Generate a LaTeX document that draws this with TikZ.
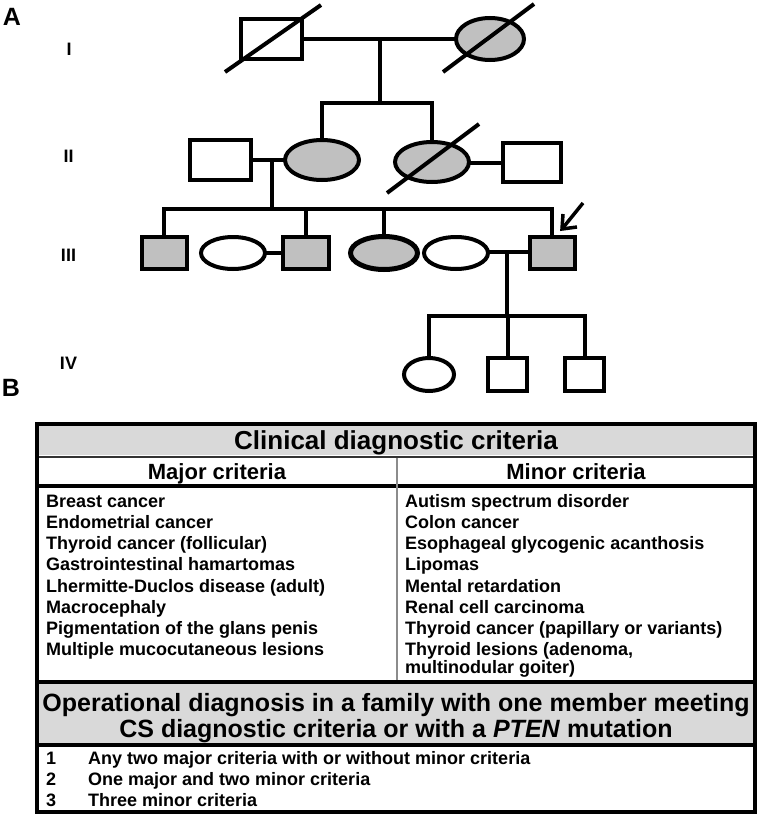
\documentclass[tikz,border=0pt]{standalone}
\usepackage{fontspec}
\setmainfont{Liberation Sans}
\usetikzlibrary{shapes.geometric,calc}
\definecolor{affgray}{HTML}{C0C0C0}
\definecolor{bandgray}{HTML}{D9D9D9}
\definecolor{divgray}{HTML}{8C8C8C}
\tikzset{
  rel/.style={line width=4pt, line join=miter, line cap=rect},
  pmale/.style={draw, line width=4pt, rectangle, inner sep=0pt, fill=white},
  pfem/.style={draw, line width=4pt, ellipse, inner sep=0pt, fill=white},
  aff/.style={fill=affgray},
  deceased/.style={line width=4pt, line cap=butt},
  genlab/.style={anchor=base, font=\fontsize{18}{18}\selectfont\bfseries},
  panel/.style={anchor=base, font=\fontsize{25}{25}\selectfont\bfseries},
  listl/.style={anchor=base west, inner sep=0pt, font=\fontsize{18}{18}\selectfont\bfseries},
  headtxt/.style={anchor=base, inner sep=0pt},
}
\begin{document}
\begin{tikzpicture}[x=1pt,y=-1pt]
\useasboundingbox (0,0) rectangle (762,819);
% panel labels
\node[panel] (labA) at (12,25) {A};
\node[panel] (labB) at (11,396) {B};
\node[genlab] (gI) at (69,55.5) {I};
\node[genlab] (gII) at (68.5,162) {II};
\node[genlab] (gIII) at (68.5,261) {III};
\node[genlab] (gIV) at (68.5,369.5) {IV};
% generation I
\node[pmale, minimum width=61pt, minimum height=40pt] (I1) at (271.5,39) {};
\node[pfem, aff, minimum width=68pt, minimum height=42pt] (I2) at (490,39) {};
% generation II
\node[pmale, minimum width=61pt, minimum height=40pt] (II1) at (220.5,160) {};
\node[pfem, aff, minimum width=74pt, minimum height=40pt] (II2) at (322,160) {};
\node[pfem, aff, minimum width=74pt, minimum height=40pt] (II3) at (432,162) {};
\node[pmale, minimum width=58pt, minimum height=39pt] (II4) at (532,162.5) {};
% generation III
\node[pmale, aff, minimum width=45pt, minimum height=32pt] (III1) at (164,253) {};
\node[pfem, minimum width=64pt, minimum height=32pt] (III2) at (233,253) {};
\node[pmale, aff, minimum width=46pt, minimum height=32pt] (III3) at (306,253) {};
\node[pfem, aff, line width=5pt, minimum width=67pt, minimum height=33pt] (III4) at (384,253) {};
\node[pfem, minimum width=64pt, minimum height=32pt] (III5) at (456,253) {};
\node[pmale, aff, minimum width=45pt, minimum height=32pt] (III6) at (552,253) {};
% generation IV
\node[pfem, minimum width=50pt, minimum height=33pt] (IV1) at (429,374.5) {};
\node[pmale, minimum width=39pt, minimum height=33pt] (IV2) at (507.5,374.5) {};
\node[pmale, minimum width=39pt, minimum height=33pt] (IV3) at (584.5,374.5) {};
% junction coordinates
\coordinate (m1) at (380,39);
\coordinate (s1) at (380,103);
\coordinate (m2) at (272,161);
\coordinate (s2) at (272,209);
\coordinate (m3) at (507,252);
\coordinate (s3) at (507,316);
% relationship lines gen I
\draw[rel] (I1.east) -- (I2.west);
\draw[rel] (m1) -- (s1);
\draw[rel] (II2.north) -- (II2.north |- s1) -- (II3.north |- s1) -- (II3.north);
% gen II
\draw[rel] (II1.east) -- (II1.east -| II2.west);
\draw[rel] (II3.east |- II4.west) -- (II4.west);
\draw[rel] (m2) -- (s2);
\draw[rel] (III1.north) -- (III1.north |- s2) -- (III6.north |- s2) -- (III6.north);
\draw[rel] (III3.north) -- (III3.north |- s2);
\draw[rel] (III4.north) -- (III4.north |- s2);
% gen III
\draw[rel] (III2.east) -- (III3.west);
\draw[rel] (III5.east |- m3) -- (III6.west |- m3);
\draw[rel] (m3) -- (s3);
\draw[rel] (IV1.north) -- (IV1.north |- s3) -- (IV3.north |- s3) -- (IV3.north);
\draw[rel] (IV2.north) -- (IV2.north |- s3);
% deceased strokes
\draw[deceased] (225,72) -- (321,5);
\draw[deceased] (443,72) -- (534,4);
\draw[deceased] (387,193) -- (479,124);
% proband arrow
\coordinate (tip) at (562,229);
\draw[line width=3.5pt, line cap=butt] (tip) -- ++(21,-26);
\draw[line width=3.5pt, line join=miter] ($(tip)+(1,-15)$) -- (tip) -- ($(tip)+(15,-2)$);
% ---------------- table ----------------
\fill[bandgray] (37,424) rectangle (755,455);
\fill[bandgray] (37,683) rectangle (755,744);
\draw[line width=2pt, black!80] (37,456.5) -- (755,456.5);
\draw[line width=4pt] (37,486) -- (755,486);
\draw[line width=1.5pt, divgray] (397,457.5) -- (397,681);
\draw[line width=4pt] (37,682) -- (755,682);
\draw[line width=4pt] (37,745) -- (755,745);
\draw[line width=4pt] (37,424) rectangle (755,812);
\node[headtxt, font=\fontsize{26}{26}\selectfont\bfseries] (title) at (396,449.3) {Clinical diagnostic criteria};
\node[headtxt, font=\fontsize{22}{22}\selectfont\bfseries] (hmaj) at (217,479) {Major criteria};
\node[headtxt, font=\fontsize{22}{22}\selectfont\bfseries] (hmin) at (576,479) {Minor criteria};
% major list
\node[listl] (a1) at (46,507) {Breast cancer};
\node[listl] (a2) at (46,528) {Endometrial cancer};
\node[listl] (a3) at (46,549.5) {Thyroid cancer (follicular)};
\node[listl] (a4) at (46,570.5) {Gastrointestinal hamartomas};
\node[listl] (a5) at (46,592) {Lhermitte-Duclos disease (adult)};
\node[listl] (a6) at (46,613.5) {Macrocephaly};
\node[listl] (a7) at (46,634.5) {Pigmentation of the glans penis};
\node[listl] (a8) at (46,655.5) {Multiple mucocutaneous lesions};
% minor list
\node[listl] (b1) at (405,507) {Autism spectrum disorder};
\node[listl] (b2) at (405,528) {Colon cancer};
\node[listl] (b3) at (405,549.5) {Esophageal glycogenic acanthosis};
\node[listl] (b4) at (405,570.5) {Lipomas};
\node[listl] (b5) at (405,592) {Mental retardation};
\node[listl] (b6) at (405,613.5) {Renal cell carcinoma};
\node[listl] (b7) at (405,634.5) {Thyroid cancer (papillary or variants)};
\node[listl] (b8) at (405,655.5) {Thyroid lesions (adenoma,};
\node[listl] (b9) at (405,673) {multinodular goiter)};
% operational
\node[headtxt, font=\fontsize{25}{25}\selectfont\bfseries] (op1) at (396,711) {Operational diagnosis in a family with one member meeting};
\node[headtxt, font=\fontsize{25}{25}\selectfont\bfseries] (op2) at (396,737) {CS diagnostic criteria or with a \textit{PTEN} mutation};
\node[listl] (n1) at (46,764.5) {1};
\node[listl] (n2) at (46,785.5) {2};
\node[listl] (n3) at (46,806.5) {3};
\node[listl] (t1) at (88,764.5) {Any two major criteria with or without minor criteria};
\node[listl] (t2) at (88,785.5) {One major and two minor criteria};
\node[listl] (t3) at (88,806.5) {Three minor criteria};
\end{tikzpicture}
\end{document}
